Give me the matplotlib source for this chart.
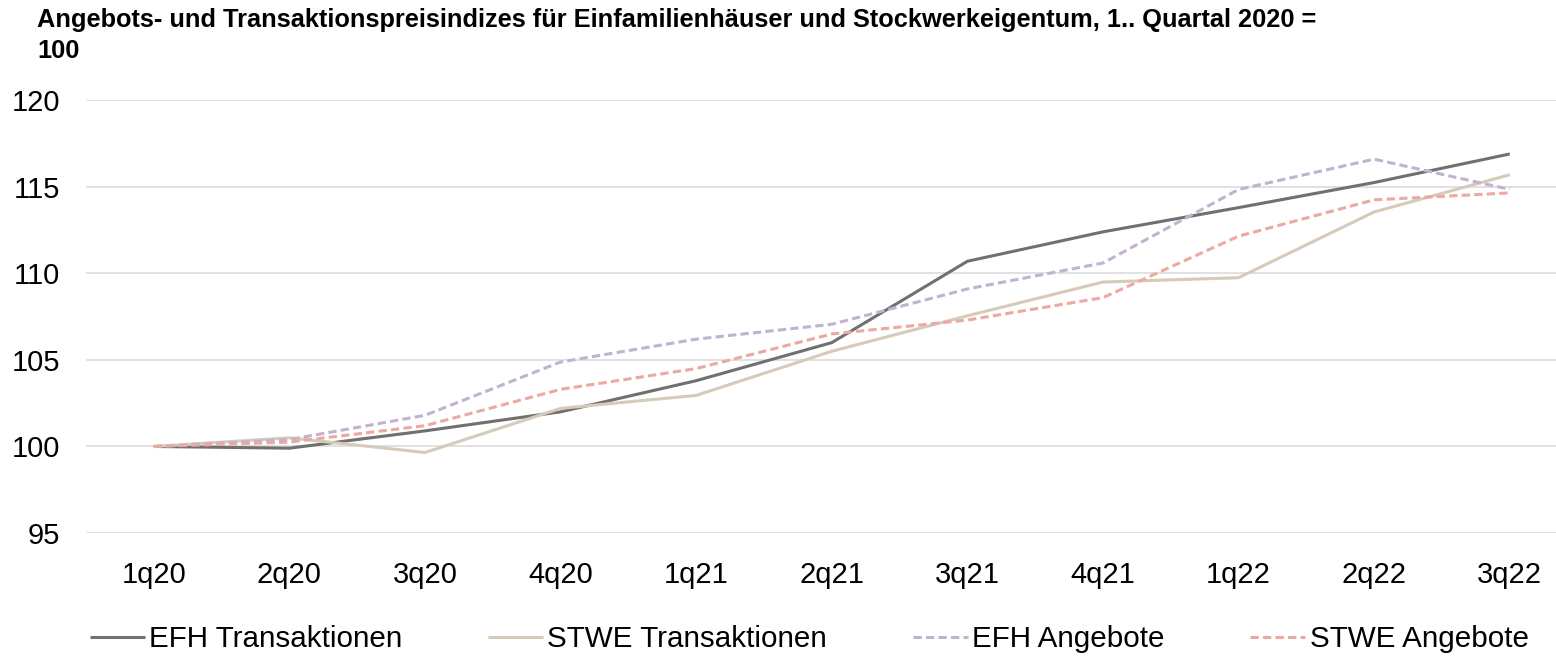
import matplotlib
matplotlib.use("Agg")
import matplotlib.pyplot as plt

plt.rcParams['font.family'] = ['Liberation Sans', 'DejaVu Sans']

quarters = ["1q20", "2q20", "3q20", "4q20", "1q21", "2q21", "3q21", "4q21", "1q22", "2q22", "3q22"]
efh_trans = [100.0, 99.9, 100.9, 102.0, 103.8, 106.0, 110.7, 112.4, 113.8, 115.25, 116.9]
stwe_trans = [100.0, 100.5, 99.65, 102.2, 102.95, 105.5, 107.55, 109.5, 109.75, 113.55, 115.7]
efh_ang = [100.0, 100.4, 101.8, 104.88, 106.2, 107.06, 109.1, 110.6, 114.85, 116.6, 114.85]
stwe_ang = [100.0, 100.25, 101.2, 103.3, 104.5, 106.5, 107.3, 108.6, 112.15, 114.25, 114.65]

title_lines = ["Angebots- und Transaktionspreisindizes für Einfamilienhäuser und Stockwerkeigentum, 1.. Quartal 2020 =",
               "100"]

W, H = 1556, 660
fig = plt.figure(figsize=(W / 100, H / 100), dpi=100)
left = 86 / W
bottom = (H - 533) / H
height = (533 - 100.3) / H
width = 11 * 135.6 / W
ax = fig.add_axes([left, bottom, width, height])

x = list(range(len(quarters)))
lw = 2.2
ax.plot(x, efh_trans, color="#707070", lw=lw, label="EFH Transaktionen", solid_capstyle="butt", zorder=3)
ax.plot(x, stwe_trans, color="#d6cab9", lw=lw, label="STWE Transaktionen", solid_capstyle="butt", zorder=3)
ax.plot(x, efh_ang, color="#c2b2cf", lw=lw, ls=(0, (2.7, 1.4)), label="EFH Angebote", zorder=3)
ax.plot(x, stwe_ang, color="#eca9a2", lw=lw, ls=(0, (2.7, 1.4)), label="STWE Angebote", zorder=3)

ax.set_xlim(-0.5, 10.5)
ax.set_ylim(95, 120)
ax.set_yticks([95, 100, 105, 110, 115, 120])
ax.set_xticks(x)
ax.set_xticklabels(quarters)
ax.yaxis.grid(True, color="#d9d9d9", lw=1.1)
ax.set_axisbelow(True)
for s in ax.spines.values():
    s.set_visible(False)
ax.tick_params(axis="both", length=0, labelsize=21, colors="black")
ax.tick_params(axis="y", pad=18.5)
ax.tick_params(axis="x", pad=20)

fig.text(37 / W, 1 - 27 / H, title_lines[0], fontsize=18.3, fontweight="bold", ha="left", va="baseline")
fig.text(37 / W, 1 - 58 / H, title_lines[1], fontsize=18.3, fontweight="bold", ha="left", va="baseline")

leg = fig.legend(loc="center left", bbox_to_anchor=(90 / W, 1 - 639 / H), ncol=4, frameon=False,
                 fontsize=21.3, handlelength=1.85, handletextpad=0.15, columnspacing=2.9,
                 borderaxespad=0, borderpad=0)

fig.savefig("out.png", dpi=100)
